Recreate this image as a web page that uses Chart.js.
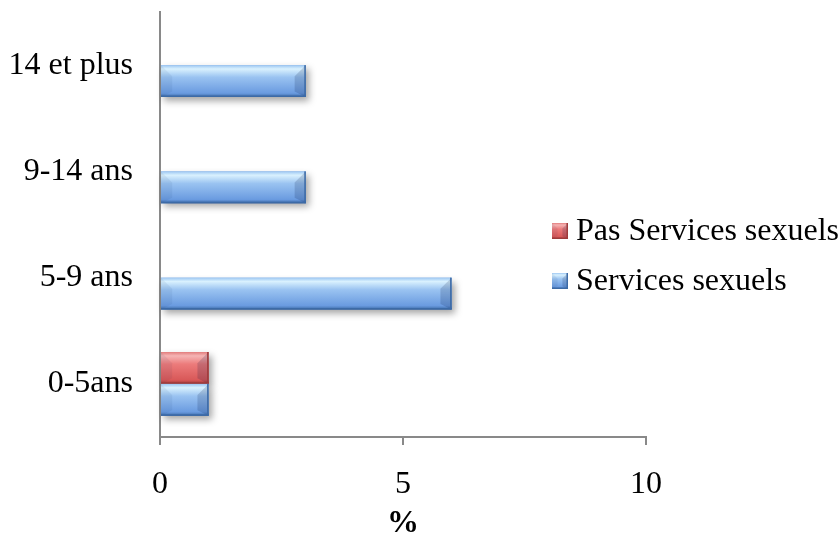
<!DOCTYPE html>
<html>
<head>
<meta charset="utf-8">
<script src="https://cdn.jsdelivr.net/npm/chart.js@4"></script>
<style>
  html, body { margin: 0; padding: 0; background: #fff; }
  #wrap { width: 840px; height: 533px; position: relative; }
</style>
</head>
<body>
<div id="wrap"><canvas id="chart"></canvas></div>
<script>
// categories, top to bottom
const ageGroups = ["14 et plus", "9-14 ans", "5-9 ans", "0-5ans"];
const servicesSexuels = [3, 3, 6, 1];
const pasServicesSexuels = [0, 0, 0, 1];
const seriesNames = ["Pas Services sexuels", "Services sexuels"];
const xTicks = [0, 5, 10];

// bevel palettes (top -> bottom)
const palettes = {
  red: ["#e27c7c", "#f5b4b4", "#ec7b7b", "#d85858", "#9e3b3b"],
  blue: ["#9cc6f2", "#d9f1fe", "#9ac3f1", "#6a9be0", "#3c6aa6"],
};

const drawBevel = (ctx, x, y, w, h, pal, shadow) => {
  ctx.save();
  if (shadow) {
    ctx.shadowColor = "rgba(0,0,0,0.35)";
    ctx.shadowBlur = 7;
    ctx.shadowOffsetX = 3;
    ctx.shadowOffsetY = 4;
  }
  const g = ctx.createLinearGradient(0, y, 0, y + h);
  g.addColorStop(0, pal[0]);
  g.addColorStop(0.12, pal[1]);
  g.addColorStop(0.38, pal[2]);
  g.addColorStop(0.88, pal[3]);
  g.addColorStop(1, pal[4]);
  ctx.fillStyle = g;
  ctx.fillRect(x, y, w, h);
  ctx.restore();

  // end wedges
  const d = Math.min(h * 0.35, w / 2);
  ctx.save();
  ctx.fillStyle = "rgba(0,30,80,0.06)";
  ctx.beginPath();
  ctx.moveTo(x, y);
  ctx.lineTo(x + d, y + d);
  ctx.lineTo(x + d, y + h - d * 0.5);
  ctx.lineTo(x, y + h);
  ctx.closePath();
  ctx.fill();
  ctx.fillStyle = "rgba(0,20,60,0.16)";
  ctx.beginPath();
  ctx.moveTo(x + w, y);
  ctx.lineTo(x + w - d, y + d);
  ctx.lineTo(x + w - d, y + h - d * 0.5);
  ctx.lineTo(x + w, y + h);
  ctx.closePath();
  ctx.fill();
  // darker right and bottom edges
  ctx.fillStyle = pal[4];
  ctx.fillRect(x + w - 1.5, y, 1.5, h);
  ctx.fillRect(x, y + h - 1.5, w, 1.5);
  ctx.restore();
};

const bevelBars = {
  id: "bevelBars",
  afterDatasetsDraw(chart) {
    const ctx = chart.ctx;
    chart.getSortedVisibleDatasetMetas().forEach((meta) => {
      const pal = palettes[chart.data.datasets[meta.index].palette];
      meta.data.forEach((bar) => {
        const { x, y, base, height } = bar.getProps(["x", "y", "base", "height"], true);
        const left = Math.min(x, base);
        const w = Math.abs(x - base);
        if (w < 0.5) return;
        drawBevel(ctx, left, y - height / 2, w, height, pal, true);
      });
    });
  },
};

const sideLegend = {
  id: "sideLegend",
  afterDraw(chart) {
    const ctx = chart.ctx;
    const rows = [231, 281];
    chart.data.datasets.forEach((ds, i) => {
      const cy = rows[i];
      drawBevel(ctx, 552, cy - 8, 16, 16, palettes[ds.palette], false);
      ctx.save();
      ctx.fillStyle = "#000";
      ctx.font = "32px 'Liberation Serif', 'Times New Roman', serif";
      ctx.textBaseline = "middle";
      ctx.textAlign = "left";
      ctx.fillText(ds.label, 576, cy + 1);
      ctx.restore();
    });
  },
};

Chart.defaults.font.family = "'Liberation Serif', 'Times New Roman', serif";
Chart.defaults.font.size = 32;
Chart.defaults.color = "#000";

new Chart(document.getElementById("chart"), {
  type: "bar",
  data: {
    labels: ageGroups,
    datasets: [
      {
        label: seriesNames[0],
        data: pasServicesSexuels,
        backgroundColor: "#e06060",
        palette: "red",
        categoryPercentage: 0.6,
        barPercentage: 1,
      },
      {
        label: seriesNames[1],
        data: servicesSexuels,
        backgroundColor: "#7aa7e6",
        palette: "blue",
        categoryPercentage: 0.6,
        barPercentage: 1,
      },
    ],
  },
  options: {
    indexAxis: "y",
    responsive: true,
    maintainAspectRatio: false,
    animation: false,
    layout: { padding: { top: 12, right: 194, left: 0, bottom: 0 } },
    scales: {
      x: {
        min: xTicks[0],
        max: xTicks[xTicks.length - 1],
        afterBuildTicks: (scale) => {
          scale.ticks = xTicks.map((v) => ({ value: v }));
        },
        afterFit: (scale) => {
          scale.height = 96;
        },
        grid: {
          display: true,
          drawOnChartArea: false,
          drawTicks: true,
          tickLength: 8,
          color: "#898989",
          lineWidth: 2,
        },
        border: { display: true, color: "#898989", width: 2 },
        ticks: { padding: 20, maxRotation: 0, font: { size: 32 } },
        title: {
          display: true,
          text: "%",
          font: { size: 32, weight: "bold", lineHeight: 0.6 },
          padding: { top: 0, bottom: 0 },
        },
      },
      y: {
        afterFit: (scale) => {
          scale.width = 160;
        },
        grid: { display: false, drawTicks: true, tickLength: 27 },
        border: { display: true, color: "#898989", width: 2 },
        ticks: { padding: 0, font: { size: 32, lineHeight: 0.2 } },
      },
    },
    plugins: {
      legend: { display: false },
      tooltip: { enabled: false },
    },
  },
  plugins: [bevelBars, sideLegend],
});
</script>
</body>
</html>
